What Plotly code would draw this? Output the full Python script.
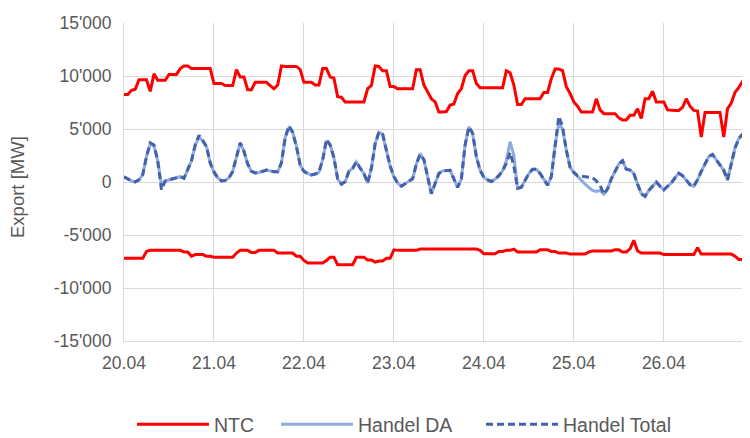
import pandas as pd
import plotly.graph_objects as go

# stuendliche Werte ab 20.04. 00:00
zeit = pd.date_range('2021-04-20 00:00', periods=168, freq='h')

ntc_export = [
    8250, 8250, 8650, 8750, 9650, 9650, 9650, 8550, 10200, 9600, 9600, 9600,
    10150, 10150, 10150, 10700, 10950, 10950, 10700, 10700, 10700, 10700, 10700, 10700,
    9300, 9300, 9300, 9100, 9100, 9100, 10600, 9900, 9900, 8700, 8700, 9400,
    9400, 9400, 9400, 9100, 8800, 9150, 10950, 10900, 10900, 10900, 10900, 10600,
    9400, 9400, 9400, 9150, 9150, 10700, 10700, 9900, 9800, 8050, 8000, 7550,
    7550, 7550, 7550, 7550, 7550, 8800, 9100, 10950, 10900, 10500, 10500, 9000,
    9000, 8800, 8800, 8800, 8800, 8800, 10600, 10600, 9150, 8450, 7850, 7550,
    6600, 6600, 6650, 7250, 7350, 8350, 8800, 10050, 10500, 10500, 9300, 8900,
    8900, 8900, 8900, 8900, 8900, 8900, 10500, 10300, 9150, 7300, 7300, 7850,
    7850, 7850, 7850, 7850, 8450, 8450, 9750, 10650, 10650, 10500, 9000, 8350,
    7550, 7150, 6600, 6600, 6600, 6600, 7850, 6800, 6450, 6450, 6450, 6450,
    6050, 5850, 5850, 6300, 6300, 6900, 6000, 7850, 7850, 8550, 7550, 7550,
    7550, 6800, 6750, 6750, 6750, 7050, 7850, 7150, 6750, 6700, 4250, 6550,
    6550, 6550, 6550, 6550, 4250, 6900, 7450, 8450, 8900, 9450, 10050, 10200,
]

ntc_import = [
    -7200, -7200, -7200, -7200, -7200, -7200, -6550, -6450, -6450, -6450, -6450, -6450,
    -6450, -6450, -6450, -6450, -6600, -6600, -7000, -6850, -6850, -6850, -7000, -7000,
    -7100, -7100, -7100, -7100, -7100, -7100, -6700, -6450, -6450, -6450, -6650, -6650,
    -6450, -6450, -6450, -6450, -6450, -6700, -6700, -6700, -6700, -6700, -7000, -7000,
    -7400, -7650, -7650, -7650, -7650, -7650, -7400, -7100, -7100, -7800, -7800, -7800,
    -7800, -7800, -7100, -7100, -7100, -7350, -7350, -7550, -7450, -7450, -7200, -7200,
    -6400, -6450, -6450, -6450, -6450, -6450, -6450, -6330, -6330, -6330, -6330, -6330,
    -6330, -6330, -6330, -6330, -6330, -6330, -6330, -6330, -6330, -6330, -6330, -6450,
    -6770, -6770, -6770, -6770, -6550, -6550, -6450, -6450, -6330, -6600, -6600, -6600,
    -6600, -6600, -6600, -6400, -6400, -6400, -6550, -6550, -6700, -6700, -6700, -6800,
    -6800, -6800, -6800, -6800, -6600, -6500, -6500, -6500, -6500, -6500, -6500, -6400,
    -6400, -6600, -6600, -6300, -5500, -6500, -6700, -6700, -6700, -6700, -6700, -6700,
    -6850, -6850, -6850, -6850, -6850, -6850, -6850, -6850, -6850, -6200, -6800, -6800,
    -6800, -6800, -6800, -6800, -6800, -6800, -6800, -7000, -7300, -7300, -7300, -7300,
]

handel_da = [
    500, 300, 100, 0, 200, 700, 2400, 3600, 3400, 2000, -300, 100,
    200, 300, 400, 500, 350, 1100, 2000, 3500, 4200, 3900, 3350, 1800,
    950, 400, 100, 150, 400, 1000, 2300, 3700, 2900, 1700, 1000, 850,
    900, 1000, 1130, 1050, 970, 970, 1800, 4200, 5100, 4700, 3350, 1600,
    1000, 800, 660, 750, 900, 2100, 3900, 3500, 2300, 300, -200, 30,
    1000, 1300, 1900, 1300, 800, -100, 1300, 3600, 4700, 4500, 3100, 1500,
    500, -100, -400, -150, 100, 300, 1700, 2700, 2100, 400, -1100, -150,
    800, 1050, 1100, 1100, 300, -500, 300, 3500, 5200, 4600, 2400, 1100,
    450, 200, 50, 250, 600, 1050, 2000, 3800, 2500, -600, -500, 150,
    800, 1200, 1200, 800, 200, -300, 500, 3500, 5600, 5000, 3000, 1400,
    900, 500, 200, -200, -500, -800, -900, -800, -1150, -650, 300, 950,
    1700, 2000, 1200, 1130, 800, -200, -1100, -1350, -800, -400, 0, -400,
    -750, -400, -100, 400, 820, 600, 200, -250, -400, 200, 1000, 1700,
    2400, 2600, 2100, 1600, 1100, 200, 1600, 3200, 4100, 4500, 4700, 3700,
]

handel_total = [
    500, 300, 100, 0, 200, 700, 2400, 3700, 3500, 2000, -750, 100,
    200, 300, 400, 500, 350, 1100, 2000, 3500, 4400, 3900, 3350, 1800,
    950, 400, 100, 150, 400, 1000, 2300, 3700, 2900, 1700, 1000, 850,
    900, 1000, 1130, 1050, 970, 970, 1800, 4200, 5300, 4700, 3350, 1600,
    1000, 800, 660, 750, 900, 2100, 4000, 3500, 2300, 300, -200, 30,
    1000, 1300, 1900, 1300, 800, -100, 1300, 3600, 4700, 4500, 3100, 1500,
    500, -100, -400, -150, 100, 300, 1700, 2600, 2100, 400, -1100, -150,
    800, 1050, 1100, 1100, 300, -500, 300, 3500, 5200, 4600, 2400, 1100,
    450, 200, 50, 250, 600, 1050, 1750, 2800, 1500, -600, -500, 150,
    800, 1200, 1200, 800, 200, -300, 500, 3500, 6200, 5200, 3000, 1400,
    900, 600, 550, 500, 500, 400, 100, -300, -1150, -650, 300, 950,
    1700, 2000, 1200, 1130, 800, -200, -1100, -1350, -800, -400, 0, -400,
    -750, -400, -100, 400, 820, 600, 200, -250, -400, 200, 1000, 1700,
    2400, 2600, 2100, 1600, 1100, 200, 1600, 3200, 4100, 4500, 4700, 3700,
]

y_ticks = [15000, 10000, 5000, 0, -5000, -10000, -15000]
y_labels = ["15'000", "10'000", "5'000", "0", "-5'000", "-10'000", "-15'000"]

grau = '#595959'

fig = go.Figure()
fig.add_trace(go.Scatter(x=zeit, y=ntc_export, name='NTC', mode='lines',
                         line=dict(color='#FF0000', width=3), legend='legend'))
fig.add_trace(go.Scatter(x=zeit, y=ntc_import, name='NTC', mode='lines',
                         line=dict(color='#FF0000', width=3), showlegend=False))
fig.add_trace(go.Scatter(x=zeit, y=handel_da, name='Handel DA', mode='lines',
                         line=dict(color='#8FAADC', width=3), legend='legend2'))
fig.add_trace(go.Scatter(x=zeit, y=handel_total, name='Handel Total', mode='lines',
                         line=dict(color='#4462AC', width=3, dash='7px,4px'),
                         legend='legend3'))

# die Seite hat 8px Rand, daher 742x430
leg = dict(orientation='h', xref='container', yref='paper', y=-0.263,
           xanchor='left', yanchor='middle', itemwidth=72,
           font=dict(size=19.5, color=grau), bgcolor='rgba(0,0,0,0)')

fig.update_layout(
    width=742, height=430,
    margin=dict(l=116, r=0, t=15, b=97, autoexpand=False),
    plot_bgcolor='white', paper_bgcolor='white',
    font=dict(family='Liberation Sans, Arial, sans-serif', size=17, color=grau),
    showlegend=True,
    legend=dict(leg, x=124 / 742),
    legend2=dict(leg, x=268 / 742),
    legend3=dict(leg, x=473 / 742),
    xaxis=dict(
        type='date', range=[zeit[0], zeit[-1]], automargin=False,
        tickformat='%d.%m', dtick=86400000, tick0='2021-04-20',
        showgrid=True, gridcolor='#D9D9D9', gridwidth=1,
        showline=True, linecolor='#D9D9D9', zeroline=False, ticks='',
        tickfont=dict(size=17.5, color=grau), ticklabelstandoff=6,
    ),
    yaxis=dict(
        range=[-15000, 15000], tickvals=y_ticks, ticktext=y_labels, automargin=False,
        showgrid=True, gridcolor='#D9D9D9', gridwidth=1,
        showline=True, linecolor='#D9D9D9', zeroline=False, ticks='',
        tickfont=dict(size=17.5, color=grau), ticklabelstandoff=8,
    ),
    annotations=[dict(text='Export [MW]', textangle=-90, xref='paper', yref='paper',
                      x=-0.169, y=0.485, xanchor='center', yanchor='middle',
                      showarrow=False, font=dict(size=18.5, color=grau))],
)

fig.write_html("out.html")
